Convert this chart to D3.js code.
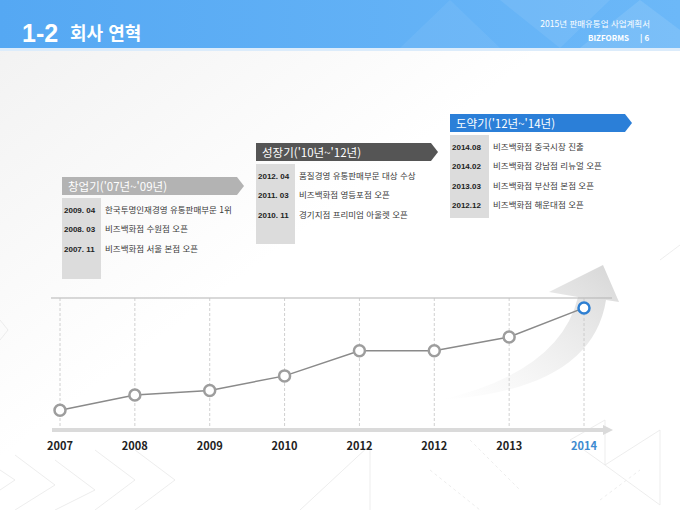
<!DOCTYPE html>
<html lang="ko">
<head>
  <meta charset="utf-8" />
  <title>회사 연혁</title>
  <script type="text/javascript" src="https://cdn.jsdelivr.net/npm/d3@7"></script>
  <style type="text/css">
body { margin: 0; background: #fff; }
text { font-family: "Noto Sans CJK KR", "Noto Sans", sans-serif; }
  </style>
</head>
<body>

<script type="text/javascript">

// timeline data
var years = ["2007", "2008", "2009", "2010", "2012", "2012", "2013", "2014"];
var growth = [15, 26.5, 30, 41, 60, 60, 70.5, 92.5];

var periodTitles = ["창업기('07년~'09년)", "성장기('10년~'12년)", "도약기('12년~'14년)"];
var period1Dates = ["2009. 04", "2008. 03", "2007. 11"];
var period1Texts = ["한국투명인재경영 유통판매부문 1위", "비즈백화점 수원점 오픈", "비즈백화점 서울 본점 오픈"];
var period2Dates = ["2012. 04", "2011. 03", "2010. 11"];
var period2Texts = ["품질경영 유통판매부문 대상 수상", "비즈백화점 영등포점 오픈", "경기지점 프리미엄 아울렛 오픈"];
var period3Dates = ["2014.08", "2014.02", "2013.03", "2012.12"];
var period3Texts = ["비즈백화점 중국시장 진출", "비즈백화점 강남점 리뉴얼 오픈", "비즈백화점 부산점 본점 오픈", "비즈백화점 해운대점 오픈"];

var w = 680, h = 510;

var svg = d3.select("body").append("svg")
    .attr("width", w)
    .attr("height", h);

var defs = svg.append("defs");

var hg = defs.append("linearGradient").attr("id", "hdr");
hg.append("stop").attr("offset", "0%").attr("stop-color", "#55a8f3");
hg.append("stop").attr("offset", "100%").attr("stop-color", "#6cb8f8");

var bg = defs.append("linearGradient").attr("id", "bgrad")
    .attr("x1", 0).attr("y1", 0).attr("x2", 1).attr("y2", 1);
bg.append("stop").attr("offset", "0%").attr("stop-color", "#f1f1f1");
bg.append("stop").attr("offset", "45%").attr("stop-color", "#ffffff");

var ag = defs.append("linearGradient").attr("id", "arrowgrad")
    .attr("x1", 0).attr("y1", 1).attr("x2", 1).attr("y2", 0);
ag.append("stop").attr("offset", "0%").attr("stop-color", "#eeeeee").attr("stop-opacity", 0);
ag.append("stop").attr("offset", "55%").attr("stop-color", "#e6e6e6").attr("stop-opacity", 0.7);
ag.append("stop").attr("offset", "100%").attr("stop-color", "#d6d6d6");

// background
svg.append("rect").attr("width", w).attr("height", h).attr("fill", "url(#bgrad)");

var tri = svg.append("g").attr("fill", "none").attr("stroke", "#e8e8e8").attr("stroke-width", 0.8);
[
  "M0,470 L15,480 L0,490", "M15,455 L55,485 L15,510", "M55,460 L95,490 L55,510",
  "M95,450 L135,480 L95,510", "M135,450 L175,480 L135,510", "M300,510 L370,445 L370,510",
  "M570,440 L605,420 L605,465 Z", "M605,465 L660,430 L660,505 Z",
  "M660,260 L680,245", "M0,320 L8,330 L0,340"
].forEach(function(p) { tri.append("path").attr("d", p); });
tri.append("path").attr("d", "M430,470 L480,510 M470,440 L520,490 M600,500 L640,470")
    .attr("stroke-dasharray", "3,3");

// header band
svg.append("rect").attr("width", w).attr("height", 48).attr("fill", "url(#hdr)");
svg.append("rect").attr("y", 48).attr("width", w).attr("height", 3).attr("fill", "#dcecfb");
var hdeco = svg.append("g").attr("fill", "#ffffff");
hdeco.append("path").attr("d", "M400,48 L450,0 L500,48 Z").attr("opacity", 0.06);
hdeco.append("path").attr("d", "M500,0 L560,48 L610,0 Z").attr("opacity", 0.08);
hdeco.append("path").attr("d", "M580,48 L640,0 L680,30 L680,48 Z").attr("opacity", 0.1);

svg.append("text").attr("x", 22).attr("y", 42)
    .attr("fill", "#fff").attr("font-size", 25).attr("font-weight", "bold")
    .style("font-family", "'Liberation Sans', Arial, sans-serif")
    .text("1-2");
svg.append("text").attr("x", 70).attr("y", 40)
    .attr("fill", "#fff").attr("font-size", 18).attr("font-weight", "bold")
    .text("회사 연혁");
svg.append("text").attr("x", 650).attr("y", 27).attr("text-anchor", "end")
    .attr("fill", "#fff").attr("font-size", 8.5)
    .text("2015년 판매유통업 사업계획서");
svg.append("text").attr("x", 629).attr("y", 41).attr("text-anchor", "end")
    .attr("fill", "#fff").attr("font-size", 8).attr("font-weight", "bold")
    .text("BIZFORMS");
svg.append("text").attr("x", 640).attr("y", 41)
    .attr("fill", "#fff").attr("font-size", 8).attr("font-weight", "bold")
    .text("| 6");

// scales
var xScale = d3.scalePoint()
    .domain(d3.range(years.length))
    .range([60, 584]);
var yScale = d3.scaleLinear()
    .domain([0, 100])
    .range([430, 298]);

// big rising arrow behind the line
svg.append("path")
    .attr("d", "M440,400 Q560,372 578,297 L549,292 L603,265 L619,302 L606,300 Q592,390 440,400 Z")
    .attr("fill", "url(#arrowgrad)");

// top rule
svg.append("line")
    .attr("x1", 51).attr("x2", 612)
    .attr("y1", yScale(100)).attr("y2", yScale(100))
    .attr("stroke", "#b3b3b3").attr("stroke-width", 1);

// dashed guides
svg.append("g").selectAll("line")
    .data(years)
    .enter().append("line")
    .attr("x1", function(d, i) { return xScale(i); })
    .attr("x2", function(d, i) { return xScale(i); })
    .attr("y1", yScale(100))
    .attr("y2", yScale(0) - 2)
    .attr("stroke", "#c4c4c4")
    .attr("stroke-dasharray", "3,2")
    .attr("stroke-width", 0.8);

// axis arrow bar
svg.append("line")
    .attr("x1", 52).attr("x2", 604)
    .attr("y1", yScale(0)).attr("y2", yScale(0))
    .attr("stroke", "#dadada").attr("stroke-width", 4);
svg.append("path")
    .attr("d", "M603," + (yScale(0) - 5) + " L613," + yScale(0) + " L603," + (yScale(0) + 5) + " Z")
    .attr("fill", "#dadada");

// year labels
svg.append("g").selectAll("text")
    .data(years)
    .enter().append("text")
    .attr("x", function(d, i) { return xScale(i); })
    .attr("y", 450)
    .attr("text-anchor", "middle")
    .attr("font-size", 11)
    .attr("font-weight", "bold")
    .attr("fill", function(d, i) { return i === years.length - 1 ? "#3d8ad0" : "#222"; })
    .text(function(d) { return d; });

// line + markers
var line = d3.line()
    .x(function(d, i) { return xScale(i); })
    .y(function(d) { return yScale(d); });

svg.append("path")
    .datum(growth)
    .attr("d", line)
    .attr("fill", "none")
    .attr("stroke", "#8a8a8a")
    .attr("stroke-width", 1.5);

svg.append("g").selectAll("circle")
    .data(growth)
    .enter().append("circle")
    .attr("cx", function(d, i) { return xScale(i); })
    .attr("cy", function(d) { return yScale(d); })
    .attr("r", 5.5)
    .attr("fill", "#fff")
    .attr("stroke", function(d, i) { return i === growth.length - 1 ? "#2e7fd2" : "#9d9d9d"; })
    .attr("stroke-width", 2.5);

// period boxes
function periodBox(x, y, title, color, dates, texts, colH) {
  var g = svg.append("g").attr("transform", "translate(" + x + "," + y + ")");
  g.append("path")
    .attr("d", "M0,0 L175,0 L182,9 L175,18 L0,18 Z")
    .attr("fill", color);
  g.append("text")
    .attr("x", 6).attr("y", 13.5)
    .attr("fill", "#fff").attr("font-size", 11.5)
    .text(title);
  g.append("rect")
    .attr("x", 0).attr("y", 21)
    .attr("width", 39).attr("height", colH)
    .attr("fill", "#dcdcdc");
  var rows = g.selectAll("g.row")
    .data(dates)
    .enter().append("g")
    .attr("class", "row")
    .attr("transform", function(d, i) { return "translate(0," + (36 + i * 19.3) + ")"; });
  rows.append("text")
    .attr("x", 2)
    .attr("font-size", 8).attr("font-weight", "bold")
    .attr("fill", "#222")
    .style("font-family", "'Liberation Sans Narrow', 'Liberation Sans', sans-serif")
    .text(function(d) { return d; });
  rows.append("text")
    .attr("x", 43)
    .attr("font-size", 8.5)
    .attr("fill", "#3a3a3a")
    .text(function(d, i) { return texts[i]; });
}

periodBox(62, 177, periodTitles[0], "#b3b3b3", period1Dates, period1Texts, 81);
periodBox(256, 143, periodTitles[1], "#555555", period2Dates, period2Texts, 80);
periodBox(450, 114, periodTitles[2], "#2b7fd8", period3Dates, period3Texts, 83);

</script>

</body>
</html>
